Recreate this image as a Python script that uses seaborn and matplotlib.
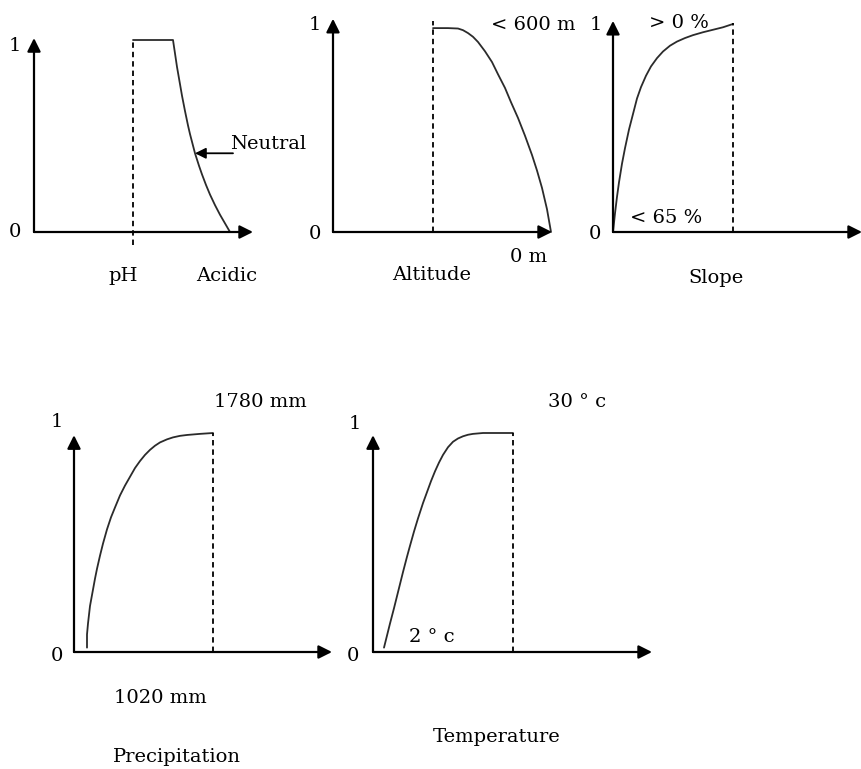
import matplotlib
matplotlib.use("Agg")
import matplotlib.pyplot as plt
import seaborn as sns

# === Membership curves (x = distance from the y-axis, y = membership) === #
ph_x = [99, 139, 141, 143, 146, 148, 151, 154, 156, 159, 161, 165, 168, 172, 176, 181, 186, 191, 196]
ph_y = [1.0, 1.0, 0.93, 0.86, 0.77, 0.71, 0.63, 0.555, 0.51, 0.45, 0.41, 0.345, 0.30, 0.245, 0.195, 0.14, 0.09, 0.045, 0.0]

alt_x = [100, 115, 125, 130, 135, 140, 145, 152, 159, 165, 172, 178, 185, 192, 199, 204, 209, 214, 218]
alt_y = [0.985, 0.985, 0.983, 0.975, 0.961, 0.943, 0.918, 0.873, 0.821, 0.762, 0.696, 0.627, 0.551, 0.465, 0.372, 0.297, 0.213, 0.11, 0.0]

slope_x = [0, 2, 4, 6, 9, 12, 16, 20, 24, 28, 33, 38, 44, 50, 57, 64, 72, 80, 90, 100, 110, 120]
slope_y = [0.0, 0.09, 0.17, 0.24, 0.33, 0.405, 0.495, 0.57, 0.645, 0.70, 0.755, 0.80, 0.84, 0.872, 0.90, 0.92, 0.937, 0.951, 0.965, 0.977, 0.989, 1.005]

prec_x = [13, 13, 14, 15, 16, 18, 19, 21, 23, 26, 29, 33, 37, 41, 46, 51, 56, 61, 66, 71, 76, 81, 86, 93, 99, 106, 113, 126, 139]
prec_y = [0.02, 0.08, 0.13, 0.17, 0.21, 0.26, 0.285, 0.335, 0.38, 0.44, 0.495, 0.56, 0.615, 0.66, 0.715, 0.76, 0.80, 0.84, 0.872, 0.90, 0.923, 0.942, 0.957, 0.971, 0.98, 0.987, 0.991, 0.996, 1.0]

temp_x = [11, 14, 17, 21, 24, 27, 30, 34, 37, 41, 45, 50, 54, 58, 62, 66, 70, 75, 80, 85, 90, 95, 100, 110, 140]
temp_y = [0.02, 0.075, 0.13, 0.20, 0.255, 0.31, 0.365, 0.435, 0.485, 0.55, 0.61, 0.68, 0.73, 0.78, 0.825, 0.865, 0.90, 0.935, 0.96, 0.975, 0.985, 0.992, 0.996, 1.0, 1.0]

# dashed cut-off position per panel
cutoffs = {"ph": 99, "alt": 100, "slope": 120, "prec": 139, "temp": 140}

titles = ["pH", "Altitude", "Slope", "Precipitation", "Temperature"]

W, H = 862, 769

sns.set_style("white")
plt.rcParams["font.family"] = ["DejaVu Serif"]
plt.rcParams["text.color"] = "black"
FS = 14

fig = plt.figure(figsize=(W / 100, H / 100), dpi=100)
fig.patch.set_facecolor("white")

arrow = dict(arrowstyle="-|>", color="black", lw=1.6, mutation_scale=20, shrinkA=0, shrinkB=0)


def make_panel(axis_x, origin_y, length, unit, top):
    # axes placed by pixel position of the hand-drawn axes
    ax = fig.add_axes([axis_x / W, 1 - origin_y / H, length / W, unit / H])
    ax.set_xlim(0, length)
    ax.set_ylim(0, 1)
    ax.axis("off")
    ax.annotate("", xy=(length, 0), xytext=(0, 0), arrowprops=arrow, annotation_clip=False)
    ax.annotate("", xy=(0, top), xytext=(0, 0), arrowprops=arrow, annotation_clip=False)
    return ax


def draw_curve(ax, xs, ys, cut, lo, hi):
    sns.lineplot(x=xs, y=ys, ax=ax, color="#2b2b2b", lw=1.3, sort=False,
                 estimator=None, clip_on=False, solid_joinstyle="round")
    ax.plot([cut, cut], [lo, hi], color="black", lw=1.3, ls=(0, (3, 2.2)), clip_on=False)


def label(ax, x, y, s, ha="center"):
    ax.text(x, y, s, ha=ha, va="center", fontsize=FS, color="black", clip_on=False)


# === Panel 1: pH === #
ax = make_panel(34, 232, 219, 192, 1.01)
draw_curve(ax, ph_x, ph_y, cutoffs["ph"], -0.07, 1.0)
label(ax, -19, 0.97, "1")
label(ax, -19, 0.0, "0")
ax.annotate("", xy=(161, 0.41), xytext=(199, 0.41), annotation_clip=False,
            arrowprops=dict(arrowstyle="-|>", color="black", lw=1.3, mutation_scale=16,
                            shrinkA=0, shrinkB=0))
label(ax, 196, 0.46, "Neutral", ha="left")
label(ax, 89, -0.23, titles[0])
label(ax, 193, -0.23, "Acidic")

# === Panel 2: Altitude === #
ax = make_panel(333, 232, 219, 207, 1.03)
draw_curve(ax, alt_x, alt_y, cutoffs["alt"], 0.0, 1.02)
label(ax, -18, 1.0, "1")
label(ax, -18, -0.01, "0")
label(ax, 200, 1.0, "< 600 m")
label(ax, 196, -0.12, "0 m")
label(ax, 99, -0.21, titles[1])

# === Panel 3: Slope === #
ax = make_panel(613, 232, 249, 207, 1.02)
draw_curve(ax, slope_x, slope_y, cutoffs["slope"], 0.0, 1.01)
label(ax, -17, 1.0, "1")
label(ax, -18, -0.01, "0")
label(ax, 66, 1.01, "> 0 %")
label(ax, 53, 0.07, "< 65 %")
label(ax, 103, -0.22, titles[2])

# === Panel 4: Precipitation === #
ax = make_panel(74, 652, 258, 219, 0.99)
draw_curve(ax, prec_x, prec_y, cutoffs["prec"], 0.0, 1.0)
label(ax, -17, 1.05, "1")
label(ax, -17, -0.02, "0")
label(ax, 186, 1.14, "1780 mm")
label(ax, 86, -0.21, "1020 mm")
label(ax, 103, -0.48, titles[3])

# === Panel 5: Temperature === #
ax = make_panel(373, 652, 279, 219, 0.99)
draw_curve(ax, temp_x, temp_y, cutoffs["temp"], 0.0, 1.0)
label(ax, -18, 1.04, "1")
label(ax, -20, -0.02, "0")
label(ax, 204, 1.14, "30 ° c")
label(ax, 59, 0.07, "2 ° c")
label(ax, 124, -0.39, titles[4])

fig.savefig("out.png", dpi=100, facecolor="white")
plt.close(fig)
